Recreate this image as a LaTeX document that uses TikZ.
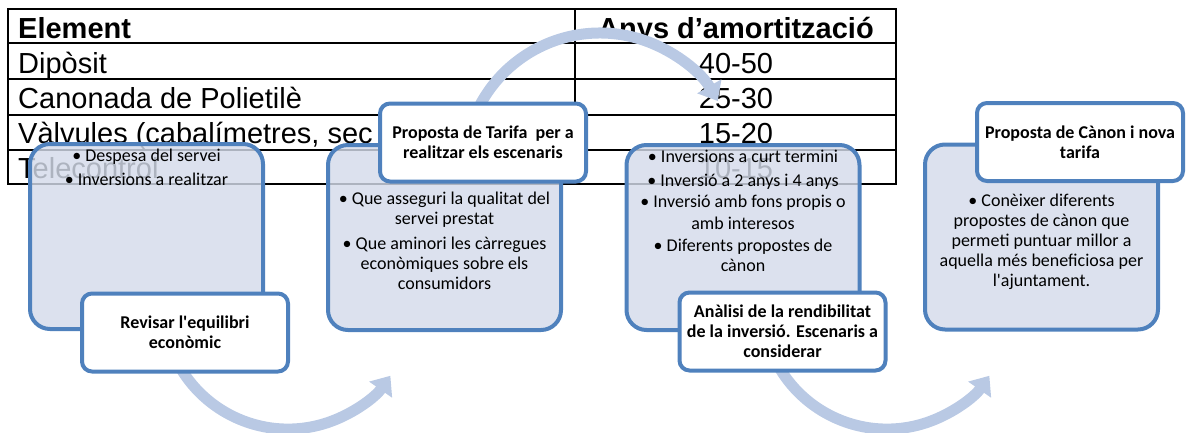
\documentclass[tikz,border=0pt]{standalone}
\usepackage{fontspec}
\setmainfont{Liberation Sans}
\newfontfamily\carlito{Carlito}
\usepackage{tikz}
\usetikzlibrary{arrows.meta,positioning}

\definecolor{boxline}{RGB}{79,129,189}
\definecolor{boxfill}{RGB}{212,219,234}
\definecolor{flowblue}{RGB}{185,201,228}

\tikzset{
	cell/.style={inner sep=0pt, font=\fontsize{29}{34}\selectfont},
	stagebox/.style={draw=boxline, line width=4pt, rounded corners=20pt, fill=boxfill, fill opacity=0.82, text opacity=1, minimum width=233pt, minimum height=185pt},
	stagelabel/.style={draw=boxline, line width=4pt, rounded corners=10pt, fill=white, minimum width=206pt, minimum height=78pt, align=center, font=\carlito\bfseries\fontsize{18}{20}\selectfont},
	stagetext/.style={align=center, inner sep=0pt, font=\carlito\fontsize{18}{20}\selectfont},
	flowarrow/.style={draw=flowblue, line width=11pt, -{Triangle[width=27pt,length=17pt]}}
}

\begin{document}
\begin{tikzpicture}[x=1pt,y=-1pt]
				\useasboundingbox (0,0) rectangle (1187,432);
				\draw[line width=1.2pt] (8,9) rectangle (896,184);
				\foreach \y in {43,79,115,150} \draw[line width=1.2pt] (8,\y) -- (896,\y);
				\draw[line width=1.2pt] (575,9) -- (575,184);
				\node[cell, anchor=base west] (el) at (18,38) {\bfseries Element};
				\node[cell, anchor=base] (anys) at (736,38) {\bfseries Anys d’amortització};
				\node[cell, anchor=base west] (dip) at (18,73) {Dipòsit};
				\node[cell, anchor=base] (dipyr) at (736,73) {40-50};
				\node[cell, anchor=base west] (can) at (18,108) {Canonada de Polietilè};
				\node[cell, anchor=base] (canyr) at (736,108) {25-30};
				\node[cell, anchor=base west] (valv) at (18,143) {Vàlvules (cabalímetres, sec};
				\node[cell, anchor=base] (valvyr) at (736,143) {15-20};
				\node[cell, anchor=base west] (tele) at (18,178) {Telecontrol};
				\node[cell, anchor=base] (teleyr) at (736,178) {10-15};

				\coordinate (startA) at (170.5,346.8);
				\draw[flowarrow] (startA) arc[start angle=200, end angle=325, radius=125pt];
				\coordinate (startB) at (472.2,122.5);
				\draw[flowarrow] (startB) arc[start angle=160, end angle=30, radius=136pt];
				\coordinate (startC) at (769.5,346.8);
				\draw[flowarrow] (startC) arc[start angle=200, end angle=325, radius=125pt];

				\node[stagebox] (revbox) at (146.5,236.5) {};
				\node[stagetext, below=7pt of revbox.north] (revtext) {\textbullet\ Despesa del servei\\[4pt]\textbullet\ Inversions a realitzar};
				\node[stagelabel] (revlabel) at (185,332.5) {Revisar l'equilibri\\econòmic};

				\node[stagebox] (qualbox) at (444.5,237.5) {};
				\node[stagetext, below=49pt of qualbox.north] (qualtext) {\textbullet\ Que asseguri la qualitat del\\servei prestat\\[5pt]\textbullet\ Que aminori les càrregues\\econòmiques sobre els\\consumidors};
				\node[stagelabel] (tariflabel) at (483,142.5) {Proposta de Tarifa~ per a\\realitzar els escenaris};

				\node[stagebox] (invbox) at (743,237.5) {};
				\node[stagetext, below=7pt of invbox.north] (invtext) {\textbullet\ Inversions a curt termini\\[4pt]\textbullet\ Inversió a 2 anys i 4 anys\\[1pt]\textbullet\ Inversió amb fons propis o\\[2pt]amb interesos\\[2pt]\textbullet\ Diferents propostes de\\cànon};
				\node[stagelabel] (analabel) at (782.5,331.5) {Anàlisi de la rendibilitat\\de la inversió. Escenaris a\\considerar};

				\node[stagebox] (canonbox) at (1041.5,237) {};
				\node[stagetext, below=51pt of canonbox.north] (canontext) {\textbullet\ Conèixer diferents\\propostes de cànon que\\permeti puntuar millor a\\aquella més beneficiosa per\\l'ajuntament.};
				\node[stagelabel] (canonlabel) at (1080,142) {Proposta de Cànon i nova\\tarifa};
			\end{tikzpicture}
\end{document}
